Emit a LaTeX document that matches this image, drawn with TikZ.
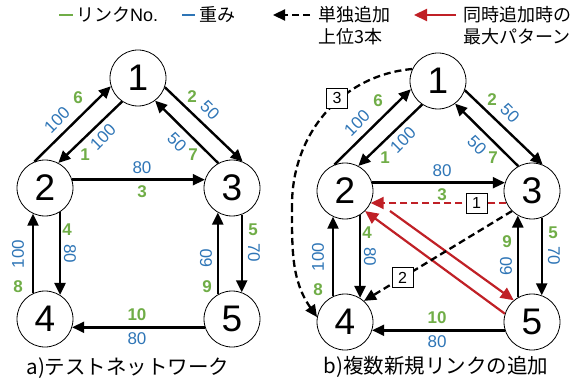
\documentclass[tikz,border=0pt]{standalone}
\usepackage{fontspec}
\setmainfont{Liberation Sans}
\newfontfamily\jp{Noto Sans CJK JP}
\usetikzlibrary{arrows.meta}
\definecolor{lgreen}{RGB}{112,173,71}
\definecolor{lblue}{RGB}{46,117,182}
\definecolor{lred}{RGB}{192,32,38}
\tikzset{
 nd/.style={circle,draw,line width=0.8pt,minimum size=56pt,inner sep=0pt,font=\fontsize{37}{37}\selectfont},
 ed/.style={line width=2.4pt,-{Triangle[length=12pt,width=11pt]}},
 gl/.style={text=lgreen,font=\fontsize{17}{17}\selectfont\bfseries,inner sep=0pt},
 bl/.style={text=lblue,font=\fontsize{17}{17}\selectfont,inner sep=0pt},
 dsh/.style={line width=2.3pt,dash pattern=on 7pt off 4pt,-{Triangle[length=12pt,width=11pt]}},
 rd/.style={lred,line width=2.2pt,-{Triangle[length=13pt,width=12pt]}},
 bx/.style={solid,draw=black,text=black,fill=white,line width=0.8pt,minimum width=21pt,minimum height=20pt,inner sep=0pt,font=\fontsize{16}{16}\selectfont},
 lg/.style={anchor=west,inner sep=0pt,font=\fontsize{18}{18}\selectfont\jp},
 captx/.style={inner sep=0pt,font=\fontsize{20.5}{20.5}\selectfont\jp},
}
\begin{document}
\begin{tikzpicture}[x=1pt,y=-1pt]
\useasboundingbox (0,0) rectangle (583,382);
% legend
\coordinate (lgA) at (59,15); \coordinate (lgB) at (73,15);
\draw[lgreen,line width=2.5pt] (lgA) -- (lgB);
\node[lg] (lt1) at (76,15) {リンク\fontspec{Liberation Sans}No.};
\coordinate (lbA) at (182,15); \coordinate (lbB) at (195,15);
\draw[lblue,line width=2.5pt] (lbA) -- (lbB);
\node[lg] (lt2) at (199,15) {重み};
\coordinate (ldA) at (310,15); \coordinate (ldB) at (273,15);
\draw[dsh] (ldA) -- (ldB);
\node[lg] (lt3) at (318,15) {単独追加};
\node[lg] (lt4) at (318,37) {上位3本};
\coordinate (lrA) at (456,15); \coordinate (lrB) at (414,15);
\draw[rd] (lrA) -- (lrB);
\node[lg] (lt5) at (463,15) {同時追加時の};
\node[lg] (lt6) at (463,37) {最大パターン};
% two networks
\foreach \p/\dx/\dy/\ny/\sy in {a/0/0/287/258, b/300/3/239/263}{
\begin{scope}[shift={(\dx,\dy)}]
 \node[nd] (\p1) at (138,78) {1};
 \node[nd] (\p2) at (45,188) {2};
 \node[nd] (\p3) at (232,188) {3};
 \node[nd] (\p4) at (45,319) {4};
 \node[nd] (\p5) at (232,319) {5};
 \draw[ed] (\p2.112) -- (\p1.197);
 \draw[ed] (\p1.236) -- (\p2.62);
 \draw[ed] (\p1.-19) -- (\p3.68);
 \draw[ed] (\p3.119) -- (\p1.-53.5);
 \draw[ed] (\p2.17) -- (\p3.163);
 \draw[ed] (\p5.197) -- (\p4.-17);
 \draw[ed] (\p4.115) -- (\p2.245);
 \draw[ed] (\p2.302) -- (\p4.58);
 \draw[ed] (\p5.120) -- (\p3.240);
 \draw[ed] (\p3.290) -- (\p5.70);
 \node[bl,rotate=45] (\p w6) at (57,120) {100};
 \node[gl] (\p l6) at (78,98) {6};
 \node[bl,rotate=45] (\p w1) at (103,137) {100};
 \node[gl] (\p l1) at (85,155) {1};
 \node[gl] (\p l2) at (192,97) {2};
 \node[bl,rotate=-45] (\p w2) at (210,110) {50};
 \node[bl,rotate=-45] (\p w7) at (177,142) {50};
 \node[gl] (\p l7) at (193,155) {7};
 \node[bl] (\p w3) at (142,168) {80};
 \node[gl] (\p l3) at (142,192) {3};
 \node[bl,rotate=90] (\p w8) at (18,254) {100};
 \node[gl] (\p l8) at (18,287) {8};
 \node[gl] (\p l4) at (67,230) {4};
 \node[bl,rotate=-90] (\p w4) at (70,254) {80};
 \node[bl,rotate=90] (\p w9) at (206,\sy) {60};
 \node[gl] (\p l9) at (207,\ny) {9};
 \node[gl] (\p l5) at (253,230) {5};
 \node[bl,rotate=-90] (\p w5) at (254,253) {70};
 \node[gl] (\p l10) at (137,315) {10};
 \node[bl] (\p w10) at (137,339) {80};
\end{scope}
}
% additions in b
\draw[rd,dash pattern=on 7pt off 4pt] (b3.205.4) -- node[bx,pos=0.22] (bx1) {1} (b2.-25.4);
\coordinate (rA) at (390,211);
\draw[rd] (rA) -- (b5.130);
\draw[rd] (b5.163) -- (b2.-45);
\draw[dsh] (b3.225) -- node[bx,pos=0.74] (bx2) {2} (b4.48);
\coordinate (cmid) at (292,205);
\draw[line width=2.3pt,dash pattern=on 7pt off 4pt] (b1.155) to[out=185,in=90] (cmid);
\draw[dsh] (cmid) to[out=-90,in=125] (b4.170);
\node[bx] (bx3) at (337,98) {3};
% captions
\node[captx] (capA) at (128,368) {a)テストネットワーク};
\node[captx] (capB) at (436,367) {b)複数新規リンクの追加};
\end{tikzpicture}
\end{document}
